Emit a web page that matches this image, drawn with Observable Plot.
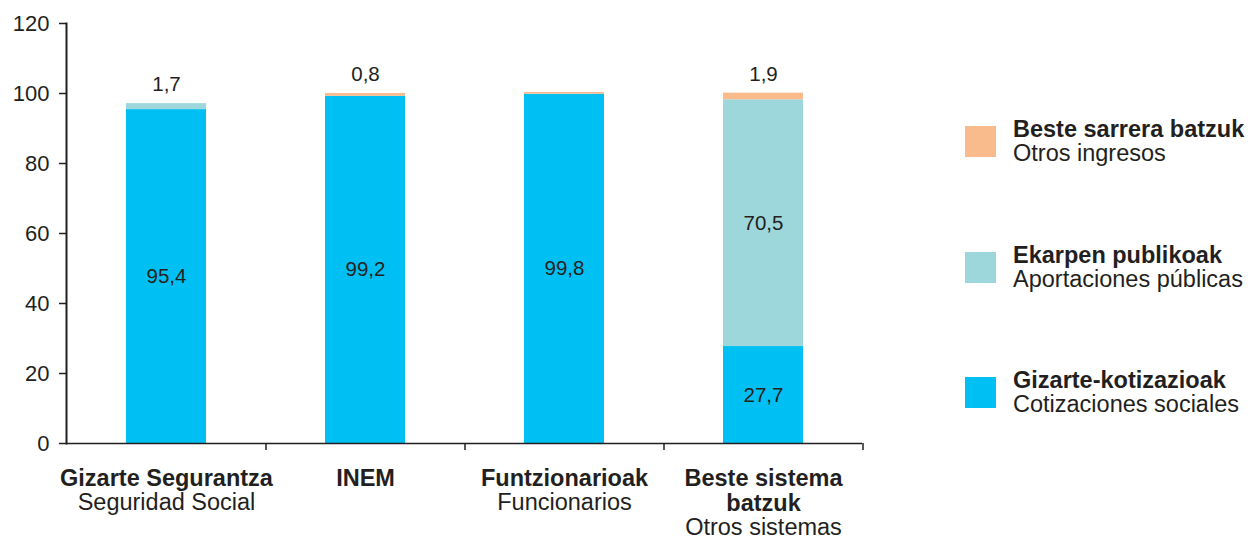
<!DOCTYPE html>
<html>
<head>
<meta charset="utf-8">
<script src="https://cdn.jsdelivr.net/npm/d3@7"></script>
<script src="https://cdn.jsdelivr.net/npm/@observablehq/plot@0.6"></script>
<style>
  html, body { margin: 0; padding: 0; background: #fff; }
  body { position: relative; width: 1251px; height: 541px; overflow: hidden; font-family: "Liberation Sans", Arial, sans-serif; color: #231f20; }
  #legend { position: absolute; left: 965px; top: 0; }
  .item { position: absolute; left: 0; width: 290px; }
  .sw { position: absolute; left: 0; width: 31px; height: 31px; }
  .lbl { position: absolute; left: 48px; font-size: 23.5px; line-height: 24px; white-space: nowrap; }
  .lbl b { font-weight: bold; }
</style>
</head>
<body>
<div id="chart"></div>
<div id="legend"></div>
<script>
// ---- data ----
const categories = ["Gizarte Segurantza", "INEM", "Funtzionarioak", "Beste sistema batzuk"];
const categoryBold = ["Gizarte Segurantza", "INEM", "Funtzionarioak", "Beste sistema\nbatzuk"];
const categoryNormal = ["Seguridad Social", "", "Funcionarios", "Otros sistemas"];

const seriesNames = ["Gizarte-kotizazioak", "Ekarpen publikoak", "Beste sarrera batzuk"];
const seriesNamesEs = ["Cotizaciones sociales", "Aportaciones públicas", "Otros ingresos"];
const seriesColors = ["#00bff3", "#9dd7db", "#f9bb8b"];

const cotizaciones = [95.4, 99.2, 99.8, 27.7];
const aportaciones = [1.7, 0, 0, 70.5];
const otros = [0, 0.8, 0.5, 1.9];

const yTicks = [0, 20, 40, 60, 80, 100, 120];

// ---- table ----
const seriesValues = [cotizaciones, aportaciones, otros];
const table = [];
seriesNames.forEach((s, si) => {
  categories.forEach((c, ci) => {
    table.push({category: c, series: s, value: seriesValues[si][ci]});
  });
});
const fmt = v => v.toFixed(1).replace(".", ",");
const boldLines = categoryBold.map(t => t.split("\n").length);

// ---- layout ----
const W = 1251, H = 541, ML = 66, MR = 389, MT = 23, MB = 98;
const step = (W - ML - MR) / categories.length;
const ink = "#231f20";
const catFont = 23.5, catLine = 25;

const chart = Plot.plot({
  width: W,
  height: H,
  marginLeft: ML,
  marginRight: MR,
  marginTop: MT,
  marginBottom: MB,
  style: {fontFamily: '"Liberation Sans", Arial, sans-serif', color: ink, background: "#fff"},
  x: {domain: categories, paddingInner: 0.6, paddingOuter: 0.3, axis: null},
  y: {domain: [0, 120], axis: null},
  color: {domain: seriesNames, range: seriesColors},
  marks: [
    Plot.barY(table, {x: "category", y: "value", fill: "series", order: seriesNames}),
    Plot.axisY({ticks: yTicks, tickSize: 7, tickPadding: 10, fontSize: 22, label: null, tickFormat: d => String(d), strokeWidth: 1.5}),
    Plot.frame({anchor: "left", stroke: ink, strokeWidth: 2}),
    Plot.ruleY([0], {stroke: ink, strokeWidth: 1.5}),
    Plot.ruleX(categories, {x: d => d, dx: step / 2, y1: 0, y2: -7 / 3.5, stroke: ink, strokeWidth: 1.5}),
    // inside labels
    Plot.text(table, Plot.stackY({
      x: "category", y: "value", z: "series", order: seriesNames,
      text: d => d.value >= 10 ? fmt(d.value) : null,
      fontSize: 20.5, fill: ink
    })),
    // top labels for small segments
    Plot.text(table, Plot.stackY2({
      x: "category", y: "value", z: "series", order: seriesNames,
      text: d => (d.value >= 0.75 && d.value < 10) ? fmt(d.value) : null,
      fontSize: 20.5, fill: ink, dy: -19
    })),
    // category labels (bold lines)
    Plot.text(categories, {
      x: d => d, frameAnchor: "bottom", dy: 24.5, lineAnchor: "top",
      text: (d, i) => categoryBold[i], fontWeight: "bold", fontSize: catFont, lineHeight: catLine / catFont, fill: ink
    }),
    // normal lines under one-line bold labels
    Plot.text(categories, {
      x: d => d, frameAnchor: "bottom", dy: 24.5 + catLine, lineAnchor: "top",
      text: (d, i) => boldLines[i] === 1 && categoryNormal[i] ? categoryNormal[i] : null,
      fontSize: catFont, fill: ink
    }),
    // normal lines under two-line bold labels
    Plot.text(categories, {
      x: d => d, frameAnchor: "bottom", dy: 24.5 + 2 * catLine, lineAnchor: "top",
      text: (d, i) => boldLines[i] === 2 && categoryNormal[i] ? categoryNormal[i] : null,
      fontSize: catFont, fill: ink
    })
  ]
});
document.getElementById("chart").appendChild(chart);

// ---- legend (top item = last series) ----
const legend = document.getElementById("legend");
const order = [2, 1, 0];
order.forEach((si, k) => {
  const top = 126 + k * 125.5;
  const item = document.createElement("div");
  item.className = "item";
  item.style.top = top + "px";
  const sw = document.createElement("div");
  sw.className = "sw";
  sw.style.top = "0px";
  sw.style.background = seriesColors[si];
  const lbl = document.createElement("div");
  lbl.className = "lbl";
  lbl.style.top = "-9px";
  lbl.innerHTML = "<b>" + seriesNames[si] + "</b><br>" + seriesNamesEs[si];
  item.appendChild(sw);
  item.appendChild(lbl);
  legend.appendChild(item);
});
</script>
</body>
</html>
